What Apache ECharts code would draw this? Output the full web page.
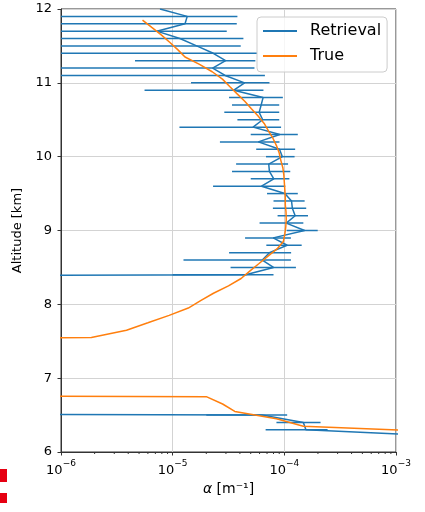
<!DOCTYPE html>
<html><head><meta charset="utf-8">
<script src="https://cdn.jsdelivr.net/npm/echarts@6/dist/echarts.min.js"></script>
<style>html,body{margin:0;padding:0;background:#fff}#c{width:425px;height:512px}</style>
</head><body><div id="c"></div>
<script>
// ---- data ----
const retrievalAlt = [12.0,11.9,11.8,11.7,11.6,11.5,11.4,11.3,11.2,11.1,11.0,10.9,10.8,10.7,10.6,10.5,10.4,10.3,10.2,10.1,10.0,9.9,9.8,9.7,9.6,9.5,9.4,9.3,9.2,9.1,9.0,8.9,8.8,8.7,8.6,8.5,8.4,8.3,8.2,8.1,8.0,7.9,7.8,7.7,7.6,7.5,7.4,7.3,7.2,7.1,7.0,6.9,6.8,6.7,6.6,6.5,6.4,6.3,6.2];
const retrievalVal = [7.7e-6,1.35e-5,1.29e-5,7.2e-6,1.16e-5,1.64e-5,2.31e-5,2.98e-5,2.28e-5,2.95e-5,4.41e-5,3.53e-5,6.45e-5,6.2e-5,5.95e-5,6.4e-5,5.25e-5,9.1e-5,5.85e-5,9.05e-5,9.6e-5,7.25e-5,7.35e-5,8.05e-5,6.25e-5,1.01e-4,1.16e-4,1.18e-4,1.25e-4,1.04e-4,1.52e-4,7.95e-5,1.06e-4,7.35e-5,6.35e-5,8.0e-5,4.5e-5,0,0,0,0,0,0,0,0,0,0,0,0,0,0,0,0,0,0,6.3e-5,1.48e-4,1.56e-4,4.4e-3];
const retrievalErr = [0,2.45e-5,2.46e-5,2.33e-5,3.14e-5,2.43e-5,3.39e-5,2.52e-5,3.12e-5,3.75e-5,2.95e-5,2.97e-5,3.25e-5,2.8e-5,3.05e-5,2.6e-5,4.1e-5,4.1e-5,3.2e-5,3.45e-5,2.75e-5,3.55e-5,3.95e-5,3.05e-5,3.95e-5,3.1e-5,3.6e-5,3.9e-5,3.8e-5,4.4e-5,4.7e-5,3.5e-5,3.7e-5,4.15e-5,5.1e-5,4.7e-5,3.5e-5,0,0,0,0,0,0,0,0,0,0,0,0,0,0,0,0,0,0,4.3e-5,6.3e-5,8.8e-5,1.5e-3];
const trueAlt = [11.85,11.75,11.65,11.55,11.45,11.35,11.25,11.15,11.05,10.95,10.85,10.75,10.65,10.55,10.45,10.35,10.25,10.15,10.05,9.95,9.85,9.75,9.65,9.55,9.45,9.35,9.25,9.15,9.05,8.95,8.85,8.75,8.65,8.55,8.45,8.35,8.25,8.15,8.05,7.95,7.85,7.75,7.65,7.55,7.45,7.35,7.25,7.15,7.05,6.95,6.85,6.75,6.65,6.55,6.45,6.35,6.25];
const trueVal = [5.37e-6,6.5e-6,7.9e-6,9.4e-6,1.11e-5,1.29e-5,1.74e-5,2.26e-5,2.79e-5,3.24e-5,3.78e-5,4.42e-5,5.07e-5,5.82e-5,6.6e-5,7.2e-5,7.9e-5,8.5e-5,9.0e-5,9.3e-5,9.7e-5,9.9e-5,1.0e-4,1.01e-4,1.02e-4,1.02e-4,1.035e-4,1.04e-4,1.03e-4,1.01e-4,9.8e-5,8.6e-5,7.1e-5,5.9e-5,4.9e-5,4.1e-5,3.16e-5,2.32e-5,1.78e-5,1.38e-5,9.3e-6,6.0e-6,3.86e-6,1.87e-6,0,0,0,0,0,0,0,2.0e-5,2.8e-5,3.6e-5,8.5e-5,1.48e-4,7e-3];
const yTicks = [6,7,8,9,10,11,12];
const xDecadeExp = [-6,-5,-4,-3];
const minorMult = [2,3,4,5,6,7,8,9];
const seriesNames = ['Retrieval','True'];

// ---- build ----
const X_MIN = Math.pow(10, xDecadeExp[0]), X_MAX = Math.pow(10, xDecadeExp[xDecadeExp.length-1]);
const TINY = 1e-30; // non-positive values are clipped far off-axis like matplotlib's log clip
const FONT = 'DejaVu Sans';
const BLUE = '#1f77b4', ORANGE = '#ff7f0e';

const retLine = retrievalAlt.map((a,i)=>[retrievalVal[i] > 0 ? retrievalVal[i] : TINY, a]);
const trueLine = trueAlt.map((a,i)=>[trueVal[i] > 0 ? trueVal[i] : TINY, a]);
const errData = retrievalAlt.map((a,i)=>[Math.max(retrievalVal[i]-retrievalErr[i], X_MIN), Math.min(retrievalVal[i]+retrievalErr[i], X_MAX), a]);
const minorTicks = [];
xDecadeExp.slice(0,-1).forEach(e=>minorMult.forEach(m=>minorTicks.push([m*Math.pow(10,e), yTicks[0]])));

const chart = echarts.init(document.getElementById('c'), null, {renderer:'canvas'});
chart.setOption({
  animation:false,
  textStyle:{fontFamily:FONT},
  grid:{left:61, right:29, top:9, bottom:60, show:true, borderColor:'#333', borderWidth:1, backgroundColor:'transparent'},
  legend:{
    data:[{name:seriesNames[0], icon:'rect'},{name:seriesNames[1], icon:'rect'}],
    orient:'vertical', left:257, top:17, itemWidth:34, itemHeight:2, itemGap:9,
    padding:[6,6,8,6], backgroundColor:'rgba(255,255,255,0.8)', borderColor:'#ccc', borderWidth:1, borderRadius:4,
    textStyle:{fontSize:16, fontFamily:FONT, color:'#000', lineHeight:16, padding:[0,0,0,8]}
  },
  xAxis:{
    type:'log', logBase:10, min:X_MIN, max:X_MAX,
    axisLine:{show:true, lineStyle:{color:'#333', width:1}},
    axisTick:{show:true, length:3.5, lineStyle:{color:'#333'}},
    splitLine:{show:true, lineStyle:{color:'#d3d3d3', width:1}},
    axisLabel:{
      margin:7, color:'#000',
      formatter:v=>'{b|10}{s|\u2212'+(-Math.round(Math.log10(v)))+'}',
      rich:{b:{fontSize:13, fontFamily:FONT, color:'#000', verticalAlign:'bottom', padding:[5,0,0,0]},
            s:{fontSize:9, fontFamily:FONT, color:'#000', verticalAlign:'top'}}
    },
    name:'{i|\u03b1} [m\u207b\u00b9]', nameLocation:'middle', nameGap:30,
    nameTextStyle:{fontSize:14, fontFamily:FONT, color:'#000', rich:{i:{fontSize:14, fontStyle:'italic', fontFamily:FONT, color:'#000'}}}
  },
  yAxis:{
    type:'value', min:yTicks[0], max:yTicks[yTicks.length-1], interval:1,
    axisLine:{show:true, lineStyle:{color:'#333', width:1}},
    axisTick:{show:true, length:3.5, lineStyle:{color:'#333'}},
    splitLine:{show:true, lineStyle:{color:'#d3d3d3', width:1}},
    axisLabel:{fontSize:13, color:'#000', margin:9, fontFamily:FONT},
    name:'Altitude [km]', nameLocation:'middle', nameGap:33, nameRotate:90,
    nameTextStyle:{fontSize:13, fontFamily:FONT, color:'#000'}
  },
  graphic:[
    {type:'rect', shape:{x:0,y:469,width:7,height:13}, style:{fill:'#e60012'}},
    {type:'rect', shape:{x:0,y:493,width:7,height:10}, style:{fill:'#e60012'}}
  ],
  series:[
    {type:'custom', name:'minorTicks', data:minorTicks, silent:true, encode:{x:0,y:1}, z:5,
     renderItem:(p,api)=>{const c=api.coord([api.value(0),api.value(1)]);
       return {type:'line', shape:{x1:c[0],y1:c[1],x2:c[0],y2:c[1]+2}, style:{stroke:'#333', lineWidth:1}};}},
    {type:'custom', name:'errbars', data:errData, silent:true, encode:{x:[0,1], y:2}, z:2, clip:true,
     renderItem:(p,api)=>{const lo=api.value(0), hi=api.value(1), a=api.value(2);
       if(!(hi>lo)) return;
       const c1=api.coord([lo,a]), c2=api.coord([hi,a]);
       return {type:'line', shape:{x1:c1[0],y1:c1[1],x2:c2[0],y2:c2[1]}, style:{stroke:BLUE, lineWidth:1.5}};}},
    {type:'line', name:seriesNames[0], data:retLine, showSymbol:false, symbol:'none', clip:true, z:3,
     lineStyle:{color:BLUE, width:1.5}, itemStyle:{color:BLUE}},
    {type:'line', name:seriesNames[1], data:trueLine, showSymbol:false, symbol:'none', clip:true, z:4,
     lineStyle:{color:ORANGE, width:1.5}, itemStyle:{color:ORANGE}}
  ]
});
</script></body></html>
